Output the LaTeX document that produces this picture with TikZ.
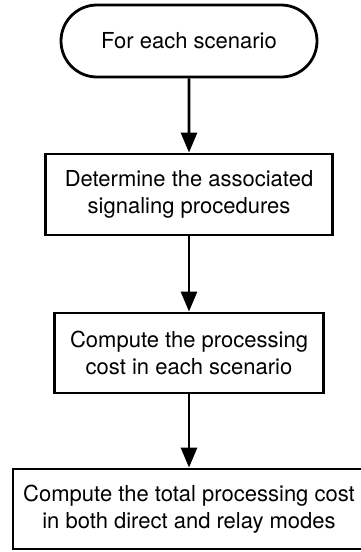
\documentclass[tikz,border=0pt]{standalone}
\usepackage{fontspec}
\setmainfont{TeX Gyre Heros}
\usetikzlibrary{shapes.misc,arrows.meta}
\tikzset{stepbox/.style={draw, line width=2.8pt, align=center, inner sep=0pt, font=\fontsize{22}{27}\selectfont}}
\tikzset{startbox/.style={stepbox, rounded rectangle}}
\tikzset{flow/.style={line width=2.8pt, -{Triangle[width=16pt,length=20pt]}}}

\begin{document}
\begin{tikzpicture}
  \useasboundingbox (0pt,0pt) rectangle (361pt,-552pt);

  \node (start) [startbox, minimum width=256pt, minimum height=72pt] at (189pt,-41pt) {For each scenario};
  \node (procs) [stepbox, minimum width=287pt, minimum height=81pt] at (189pt,-194.5pt) {Determine the associated\\signaling procedures};
  \node (cost) [stepbox, minimum width=269pt, minimum height=80pt] at (189pt,-353pt) {Compute the processing\\cost in each scenario};
  \node (total) [stepbox, minimum width=352pt, minimum height=80pt] at (189pt,-509pt) {Compute the total processing cost\\in both direct and relay modes};

  \draw (start) edge[flow] (procs);
  \draw (procs) edge[flow] (cost);
  \draw (cost) edge[flow] (total);
\end{tikzpicture}
\end{document}
